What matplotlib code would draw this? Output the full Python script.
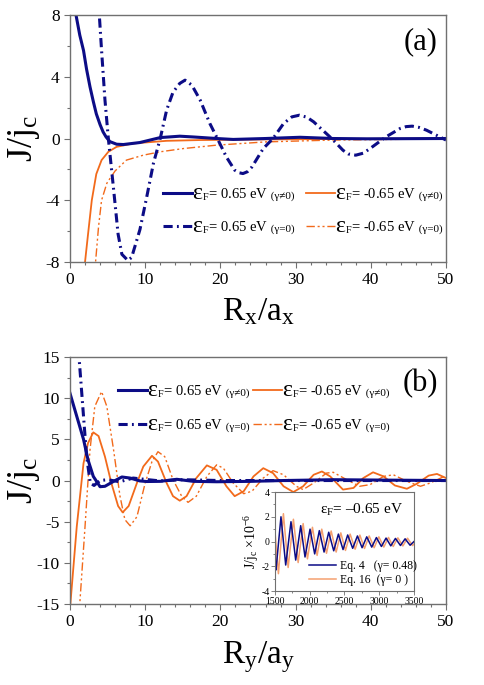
import numpy as np
import matplotlib
matplotlib.use('Agg')
import matplotlib.pyplot as plt
from matplotlib.ticker import MultipleLocator
from matplotlib.offsetbox import AnchoredOffsetbox, HPacker, TextArea, DrawingArea
from matplotlib.lines import Line2D

plt.rcParams['font.family'] = ['Liberation Serif', 'DejaVu Serif']
plt.rcParams['mathtext.fontset'] = 'stix'
plt.rcParams['axes.unicode_minus'] = False

# ---- panel (a): J/j_c vs R_x/a_x ----
a_blue_sol_x = [0.5, 0.8, 1.3, 1.8, 2.2, 2.66, 3.1, 3.5, 4.0, 4.4, 4.8, 5.3, 6.2, 7.1, 9.3, 12, 14.6, 16.4, 19.5, 21.7, 26, 30.6, 35, 39.5, 50]
a_blue_sol_y = [9.2, 8.0, 6.7, 5.7, 4.5, 3.35, 2.4, 1.6, 0.9, 0.43, 0.1, -0.2, -0.37, -0.39, -0.26, 0.06, 0.15, 0.1, 0.0, -0.06, 0.0, 0.08, 0.0, -0.02, 0.0]

a_blue_dd_x = [3.7, 3.9, 4.2, 4.65, 5.1, 5.76, 6.4, 6.9, 7.7, 8.2, 9.3, 10.2, 11.1, 12, 12.85, 13.7, 14.6, 15.3, 16.2, 17.3, 18.6, 19.6, 20.8, 21.9, 22.5, 23, 23.6, 24.2, 25.7, 27, 28.4, 29.5, 30.5, 31.5, 32.4, 34.8, 36.3, 37, 38, 39, 39.9, 42, 43.9, 44.7, 45.5, 46.4, 47.4, 50]
a_blue_dd_y = [9.5, 8.0, 5.7, 2.5, 0.0, -3.1, -6.2, -7.5, -7.9, -7.7, -5.9, -3.8, -1.6, 0.0, 1.84, 3.0, 3.57, 3.78, 3.46, 2.5, 0.97, 0.0, -1.2, -2.05, -2.22, -2.27, -2.15, -1.84, -0.65, 0.0, 0.97, 1.4, 1.51, 1.38, 1.08, 0.0, -0.76, -1.0, -1.08, -0.95, -0.65, 0.1, 0.65, 0.77, 0.8, 0.72, 0.54, -0.1]

a_or_sol_x = [1.85, 2.0, 2.4, 2.9, 3.5, 4.2, 5.1, 6.2, 8.4, 12.85, 17.3, 26, 35, 50]
a_or_sol_y = [-9.0, -8.0, -6.2, -4.0, -2.3, -1.4, -0.86, -0.54, -0.32, -0.15, -0.1, -0.06, -0.03, 0.0]

a_or_dd_x = [3.3, 3.4, 3.8, 4.2, 4.9, 5.3, 6.0, 7.5, 9.75, 12, 15.1, 19.5, 26, 35, 50]
a_or_dd_y = [-9.0, -8.0, -5.7, -4.0, -2.9, -2.6, -2.1, -1.4, -1.08, -0.86, -0.65, -0.43, -0.22, -0.1, -0.02]

# ---- panel (b): J/j_c vs R_y/a_y ----
b_blue_sol_x = [0, 0.9, 1.8, 2.4, 3.1, 4.0, 4.65, 5.8, 6.9, 8.0, 9.3, 10.2, 12, 14.2, 16.4, 19.5, 24, 28.4, 35, 42, 50]
b_blue_sol_y = [10.6, 7.8, 5.0, 2.5, 0.5, -0.75, -0.7, -0.1, 0.43, 0.3, -0.05, -0.12, -0.1, 0.15, -0.1, -0.15, -0.1, 0.0, 0.1, 0.05, 0.0]

b_blue_dd_x = [1.1, 1.2, 1.7, 2.2, 2.7, 3.2, 4.0, 5.0, 6.6, 8.4, 10.4, 12, 15, 20, 30, 40, 50]
b_blue_dd_y = [16, 15, 9.0, 3.0, -0.3, -0.6, 0.0, 0.1, -0.15, 0.3, 0.1, -0.05, 0.1, 0.0, 0.0, 0.0, 0.0]

b_or_sol_x = [0.05, 0.9, 1.8, 2.4, 3.1, 3.8, 4.65, 5.5, 6.4, 7.0, 7.8, 8.9, 9.75, 10.9, 11.7, 12.85, 13.7, 14.6, 15.5, 16.8, 18.2, 19.5, 20.8, 21.9, 23.1, 24.4, 25.7, 27, 28.4, 29.7, 31, 32.4, 33.5, 34.6, 36.3, 37.7, 39, 40.3, 41.7, 43.2, 44.8, 46.1, 47.7, 48.8, 50]
b_or_sol_y = [-15, -5.6, 2.1, 4.55, 5.85, 5.4, 2.9, -0.3, -3.1, -3.87, -3.1, -0.3, 1.7, 3.0, 2.3, -0.3, -1.9, -2.45, -1.9, 0.3, 1.84, 1.3, -0.7, -1.9, -1.3, 0.5, 1.5, 0.9, -0.7, -1.4, -0.7, 0.7, 1.1, 0.5, -1.1, -0.9, 0.3, 1.0, 0.5, -0.6, -1.0, -0.4, 0.6, 0.8, 0.3]

b_or_dd_x = [1.25, 1.3, 2.0, 2.66, 3.3, 4.2, 4.9, 5.8, 6.65, 7.3, 8.0, 8.9, 10, 10.9, 11.7, 12.6, 13.7, 14.85, 15.7, 16.8, 18.2, 19.5, 20.4, 21.7, 23.1, 24.2, 25.7, 27, 28.4, 30.1, 31, 32.4, 34.1, 35, 36.8, 38.5, 39.9, 41.7, 43, 44.8, 46.6, 47.9, 50]
b_or_dd_y = [-16, -15, -5.6, 3.7, 9.0, 10.8, 9.0, 3.7, -1.9, -4.75, -5.5, -4.4, -0.3, 2.3, 3.5, 2.9, 0.1, -1.9, -2.65, -1.9, 0.5, 1.9, 1.5, -0.3, -1.6, -1.3, 0.3, 1.2, 0.7, -0.7, -1.1, -0.3, 0.9, 1.0, 0.1, -0.7, -0.5, 0.5, 0.7, -0.1, -0.7, -0.3, 0.6]

# ---- inset: large-distance oscillations (x10^-6) ----
ins_eq4_x = [1500, 1514, 1586, 1654, 1730, 1798, 1870, 1932, 2004, 2071, 2138, 2206, 2273, 2345, 2412, 2479, 2546, 2618, 2686, 2753, 2820, 2892, 2959, 3031, 3098, 3166, 3233, 3305, 3372, 3444, 3500]
ins_eq4_y = [-1.9, -2.3, 2.0, -1.9, 1.6, -1.5, 1.28, -1.25, 1.0, -1.0, 0.88, -0.85, 0.75, -0.75, 0.6, -0.65, 0.53, -0.55, 0.45, -0.5, 0.38, -0.45, 0.32, -0.4, 0.28, -0.35, 0.25, -0.32, 0.22, -0.3, 0.0]
ins_eq16_x = [1500, 1549, 1621, 1689, 1765, 1833, 1905, 1967, 2039, 2106, 2173, 2241, 2308, 2380, 2447, 2514, 2581, 2653, 2721, 2788, 2855, 2927, 2994, 3066, 3133, 3201, 3268, 3340, 3407, 3479, 3500]
ins_eq16_y = [0.8, -2.6, 2.25, -2.1, 1.8, -1.7, 1.45, -1.4, 1.15, -1.12, 1.0, -0.95, 0.85, -0.85, 0.7, -0.72, 0.6, -0.62, 0.52, -0.56, 0.45, -0.5, 0.38, -0.45, 0.33, -0.4, 0.3, -0.36, 0.27, -0.33, -0.2]

energies = ['= 0.65 eV', '= -0.65 eV']
gammas = ['(γ≠0)', '(γ=0)']

c_blue = '#0c0c86'
c_or = '#f26a1b'
c_or2 = '#f5a070'
c_spine = '#707070'
dd_blue = (3, 1.4, 0.6, 1.4)
dd_or = (6, 2, 1.5, 2, 1.5, 2)
fnt = 12.5

fig = plt.figure(figsize=(4.85, 6.85), dpi=100)
ax1 = fig.add_axes([0.1443, 0.6175, 0.7753, 0.3606])
ax2 = fig.add_axes([0.1443, 0.1182, 0.7753, 0.3606])

def style_ax(ax, ymaj, ymin):
    ax.set_xlim(0, 50)
    ax.xaxis.set_major_locator(MultipleLocator(10))
    ax.xaxis.set_minor_locator(MultipleLocator(2))
    ax.yaxis.set_major_locator(MultipleLocator(ymaj))
    ax.yaxis.set_minor_locator(MultipleLocator(ymin))
    for s in ax.spines.values():
        s.set_color(c_spine)
        s.set_linewidth(1.0)
    ax.tick_params(which='both', direction='out', colors=c_spine, labelcolor='k', labelsize=fnt, width=0.8)
    ax.tick_params(which='major', length=4)
    ax.tick_params(which='minor', length=2.5)
    ax.yaxis.set_label_coords(-0.075, 0.47)

def entry(ax, x, y, color, lw, dashes, energy, gamma):
    # one legend item: line sample, big epsilon, subscript F + energy, small gamma text
    da = DrawingArea(21, 10, 0, 0)
    ln = Line2D([0, 21], [4.5, 4.5], color=color, lw=lw)
    if dashes is not None:
        ln.set_dashes(dashes)
    da.add_artist(ln)
    parts = [da,
             TextArea('ε', textprops=dict(fontsize=17)),
             TextArea(r'$\mathregular{{}_F}$' + energy, textprops=dict(fontsize=10.5)),
             TextArea(' ' + gamma, textprops=dict(fontsize=8))]
    box = HPacker(children=parts, align='baseline', pad=0, sep=0)
    ab = AnchoredOffsetbox(loc='lower left', child=box, pad=0, borderpad=0, frameon=False,
                           bbox_to_anchor=(x, y), bbox_transform=ax.transAxes)
    ax.add_artist(ab)

# (a)
ax1.plot(a_or_sol_x, a_or_sol_y, c=c_or, lw=1.3)
ax1.plot(a_or_dd_x, a_or_dd_y, c=c_or, lw=1.0, dashes=dd_or)
ax1.plot(a_blue_dd_x, a_blue_dd_y, c=c_blue, lw=2.2, dashes=dd_blue)
ax1.plot(a_blue_sol_x, a_blue_sol_y, c=c_blue, lw=2.2)
ax1.set_ylim(-8, 8)
style_ax(ax1, 4, 2)
ax1.set_xlabel(r'$\mathregular{R_x/a_x}$', fontsize=24, labelpad=6)
ax1.set_ylabel(r'$\mathregular{J/j_c}$', fontsize=26)
ax1.text(0.978, 0.95, '(a)', transform=ax1.transAxes, ha='right', va='top', fontsize=22)
entry(ax1, 0.247, 0.235, c_blue, 2.2, None, energies[0], gammas[0])
entry(ax1, 0.628, 0.235, c_or, 1.3, None, energies[1], gammas[0])
entry(ax1, 0.247, 0.102, c_blue, 2.2, dd_blue, energies[0], gammas[1])
entry(ax1, 0.628, 0.102, c_or, 1.0, dd_or, energies[1], gammas[1])

# (b)
ax2.plot(b_or_dd_x, b_or_dd_y, c=c_or, lw=1.0, dashes=dd_or)
ax2.plot(b_or_sol_x, b_or_sol_y, c=c_or, lw=1.3)
ax2.plot(b_blue_dd_x, b_blue_dd_y, c=c_blue, lw=2.2, dashes=dd_blue)
ax2.plot(b_blue_sol_x, b_blue_sol_y, c=c_blue, lw=2.2)
ax2.set_ylim(-15, 15)
style_ax(ax2, 5, 2.5)
ax2.set_xlabel(r'$\mathregular{R_y/a_y}$', fontsize=24, labelpad=6)
ax2.set_ylabel(r'$\mathregular{J/j_c}$', fontsize=26)
ax2.text(0.978, 0.95, '(b)', transform=ax2.transAxes, ha='right', va='top', fontsize=22)
entry(ax2, 0.128, 0.822, c_blue, 2.2, None, energies[0], gammas[0])
entry(ax2, 0.487, 0.822, c_or, 1.3, None, energies[1], gammas[0])
entry(ax2, 0.128, 0.685, c_blue, 2.2, dd_blue, energies[0], gammas[1])
entry(ax2, 0.487, 0.685, c_or, 1.0, dd_or, energies[1], gammas[1])

# inset
ax3 = fig.add_axes([0.567, 0.1372, 0.2866, 0.1445])
ax3.plot(ins_eq16_x, ins_eq16_y, c=c_or2, lw=1.1, label='Eq. 16  (γ= 0 )')
ax3.plot(ins_eq4_x, ins_eq4_y, c=c_blue, lw=1.1, label='Eq. 4   (γ= 0.48)')
ax3.set_xlim(1500, 3500)
ax3.set_ylim(-4, 4)
ax3.xaxis.set_major_locator(MultipleLocator(500))
ax3.xaxis.set_minor_locator(MultipleLocator(250))
ax3.yaxis.set_major_locator(MultipleLocator(2))
ax3.yaxis.set_minor_locator(MultipleLocator(1))
for s in ax3.spines.values():
    s.set_color(c_spine)
    s.set_linewidth(0.8)
ax3.tick_params(which='both', direction='out', colors=c_spine, labelcolor='k', labelsize=7, width=0.6, pad=1)
ax3.tick_params(which='major', length=3)
ax3.tick_params(which='minor', length=1.5)
ax3.set_ylabel(r'$\mathregular{J/j_c}$ $\mathregular{\times10^{-6}}$', fontsize=10, labelpad=0)
ax3.text(0.62, 0.82, r'$\mathregular{ε_F}$= –0.65 eV', transform=ax3.transAxes, ha='center', va='center', fontsize=11)
h, l = ax3.get_legend_handles_labels()
ax3.legend(h[::-1], l[::-1], loc='lower left', bbox_to_anchor=(0.17, -0.06), frameon=False,
           fontsize=8.5, handlelength=2.3, handletextpad=0.3, labelspacing=0.2)

plt.savefig('out.png', dpi=100)
